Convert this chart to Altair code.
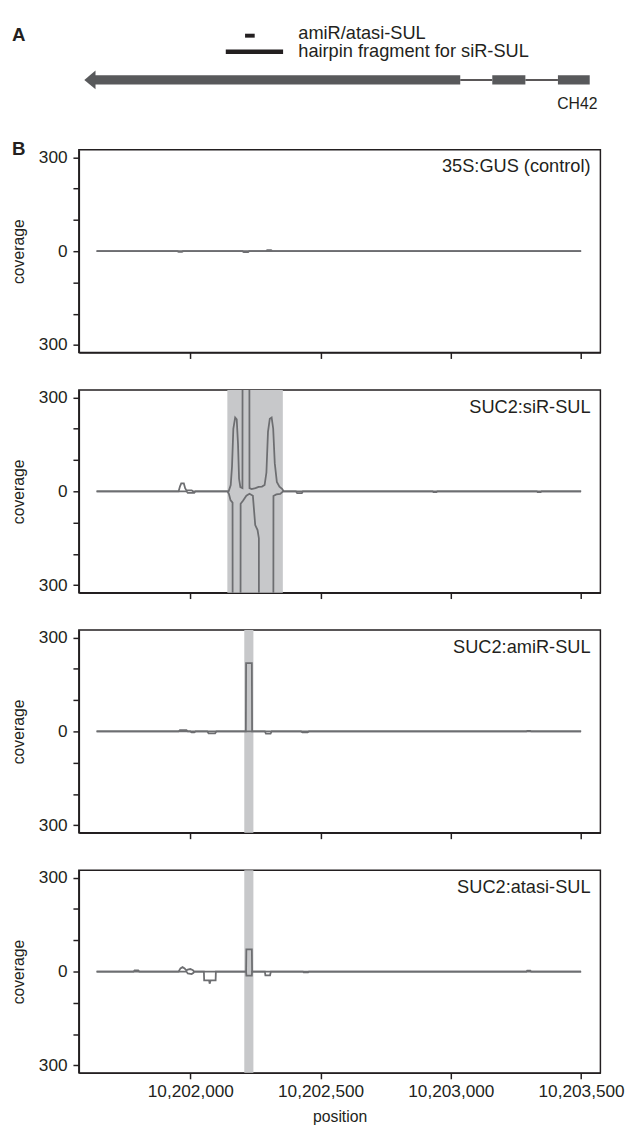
import altair as alt
import pandas as pd

# ---------------- scales / ticks ----------------
X_DOMAIN = [10201572, 10203574]
Y_DOMAIN = [-324, 324]
X_TICKS = [10202000, 10202500, 10203000, 10203500]
Y_TICKS = [-300, -200, -100, 0, 100, 200, 300]

PANEL_LABELS = ["35S:GUS (control)", "SUC2:siR-SUL", "SUC2:amiR-SUL", "SUC2:atasi-SUL"]

# ---------------- panel A: gene model ----------------
GENE_BLOCK_START = [10201630, 10203159, 10203411]
GENE_BLOCK_END = [10203036, 10203286, 10203533]
INTRON_START = [10203036, 10203286]
INTRON_END = [10203159, 10203411]
ARROW_BASE = [10201636]
AMIR_SITE = [10202210, 10202247]
HAIRPIN_SITE = [10202136, 10202356]
FEATURE_LABELS = ["amiR/atasi-SUL", "hairpin fragment for siR-SUL"]
GENE_NAME = "CH42"

# ---------------- highlighted regions (per panel) ----------------
SHADE_START = [0, 10202142, 10202207, 10202207]
SHADE_END = [0, 10202355, 10202242, 10202242]
HAS_SHADE = [False, True, True, True]

# ---------------- coverage traces ----------------
# 35S:GUS (control)
GUS_PLUS_POS = [10201640, 10202290, 10202295, 10202310, 10202315, 10203500]
GUS_PLUS_COV = [0, 0, 3, 3, 0, 0]
GUS_MINUS_POS = [10201640, 10201950, 10201955, 10201968, 10201972, 10202200,
                 10202205, 10202222, 10202226, 10203500]
GUS_MINUS_COV = [0, 0, -2, -2, 0, 0, -3, -3, 0, 0]

# SUC2:siR-SUL
SIR_PLUS_POS = [10201640, 10201955, 10201960, 10201965, 10201975, 10201980, 10201985,
                10202005, 10202010, 10202147, 10202155, 10202160, 10202165, 10202172,
                10202178, 10202183, 10202187, 10202192, 10202200, 10202201, 10202226,
                10202227, 10202235, 10202250, 10202262, 10202275, 10202285, 10202292,
                10202298, 10202305, 10202312, 10202318, 10202324, 10202332, 10202342,
                10202352, 10202358, 10203500]
SIR_PLUS_COV = [0, 0, 15, 25, 25, 10, 3,
                3, 0, 0, 20, 80, 200, 236,
                230, 150, 40, 13, 10, 1000, 1000,
                10, 7, 10, 14, 15, 20, 60,
                190, 232, 236, 200, 90, 30, 15,
                8, 0, 0]
SIR_MINUS_POS = [10201640, 10201985, 10201990, 10202015, 10202020, 10202142, 10202148,
                 10202154, 10202162, 10202163, 10202192, 10202193, 10202202, 10202215,
                 10202227, 10202240, 10202249, 10202258, 10202263, 10202264, 10202318,
                 10202319, 10202330, 10202345, 10202356, 10202405, 10202410, 10202428,
                 10202432, 10202930, 10202933, 10202945, 10202948, 10203330, 10203333,
                 10203345, 10203348, 10203500]
SIR_MINUS_COV = [0, 0, -5, -5, 0, 0, -8,
                 -28, -36, -1000, -1000, -40, -30, -14,
                 -8, -14, -108, -124, -150, -1000, -1000,
                 -15, -10, -8, 0, 0, -6, -6,
                 0, 0, -3, -3, 0, 0, -3,
                 -3, 0, 0]

# SUC2:amiR-SUL
AMI_PLUS_POS = [10201640, 10201955, 10201960, 10201985, 10201990, 10202213, 10202214,
                10202236, 10202237, 10203290, 10203293, 10203305, 10203308, 10203500]
AMI_PLUS_COV = [0, 0, 4, 4, 0, 0, 218,
                218, 0, 0, 2, 2, 0, 0]
AMI_MINUS_POS = [10201640, 10202000, 10202005, 10202015, 10202020, 10202065, 10202070,
                 10202095, 10202100, 10202286, 10202290, 10202308, 10202312, 10202425,
                 10202430, 10202450, 10202455, 10203500]
AMI_MINUS_COV = [0, 0, -3, -3, 0, 0, -6,
                 -6, 0, 0, -7, -7, 0, 0,
                 -3, -3, 0, 0]

# SUC2:atasi-SUL
ATA_PLUS_POS = [10201640, 10201782, 10201786, 10201800, 10201804, 10201955, 10201962,
                10201970, 10201978, 10201985, 10201990, 10202000, 10202010, 10202014,
                10202214, 10202215, 10202236, 10202237, 10203290, 10203293, 10203305,
                10203308, 10203500]
ATA_PLUS_COV = [0, 0, 4, 4, 0, 0, 10,
                14, 10, 3, 6, 8, 4, 0,
                0, 71, 71, 0, 0, 3, 3,
                0, 0]
ATA_MINUS_POS = [10201640, 10201985, 10201990, 10202005, 10202012, 10202015, 10202052,
                 10202053, 10202072, 10202074, 10202078, 10202097, 10202098, 10202214,
                 10202215, 10202236, 10202237, 10202286, 10202288, 10202306, 10202309,
                 10202432, 10202435, 10202452, 10202455, 10203500]
ATA_MINUS_COV = [0, 0, -6, -8, -4, 0, 0,
                 -28, -28, -39, -28, -28, 0, 0,
                 -13, -13, 0, 0, -12, -12, 0,
                 0, -3, -3, 0, 0]

# ---------------- style ----------------
FONT = "Liberation Sans"
INK = "#231f20"
LINE = "#6d6e71"
SHADE = "#c7c8ca"
GENE = "#58595b"
PANEL_W = 530
PANEL_H = 206
HEAD_H = 96


def trace_frame(plus_pos, plus_cov, minus_pos, minus_cov):
    rows = []
    for i, (p, c) in enumerate(zip(plus_pos, plus_cov)):
        rows.append({"pos": p, "cov": c, "strand": "plus", "i": i})
    for i, (p, c) in enumerate(zip(minus_pos, minus_cov)):
        rows.append({"pos": p, "cov": c, "strand": "minus", "i": i})
    return pd.DataFrame(rows)


TRACES = [
    trace_frame(GUS_PLUS_POS, GUS_PLUS_COV, GUS_MINUS_POS, GUS_MINUS_COV),
    trace_frame(SIR_PLUS_POS, SIR_PLUS_COV, SIR_MINUS_POS, SIR_MINUS_COV),
    trace_frame(AMI_PLUS_POS, AMI_PLUS_COV, AMI_MINUS_POS, AMI_MINUS_COV),
    trace_frame(ATA_PLUS_POS, ATA_PLUS_COV, ATA_MINUS_POS, ATA_MINUS_COV),
]

xscale = alt.Scale(domain=X_DOMAIN, nice=False, zero=False)
yscale = alt.Scale(domain=Y_DOMAIN, nice=False, zero=False)


def coverage_panel(k):
    bottom = k == 3
    x_axis = alt.Axis(values=X_TICKS, format=",d", labels=bottom,
                      title="position" if bottom else "", tickSize=6,
                      labelPadding=4, titlePadding=9, labelFontSize=17.5)
    y_axis = alt.Axis(values=Y_TICKS, tickSize=6, labelPadding=6, titlePadding=12,
                      labelExpr="datum.value == 0 ? '0' : (abs(datum.value) == 300 ? '300' : '')",
                      title="coverage")
    layers = []
    if HAS_SHADE[k]:
        sh = pd.DataFrame({"start": [SHADE_START[k]], "end": [SHADE_END[k]]})
        layers.append(
            alt.Chart(sh).mark_rect(color=SHADE).encode(
                x=alt.X("start:Q", scale=xscale, axis=x_axis),
                x2="end:Q",
                y=alt.value(0), y2=alt.value(PANEL_H),
            )
        )
    layers.append(
        alt.Chart(TRACES[k]).mark_line(color=LINE, strokeWidth=1.8, clip=True).encode(
            x=alt.X("pos:Q", scale=xscale, axis=x_axis),
            y=alt.Y("cov:Q", scale=yscale, axis=y_axis),
            detail="strand:N",
            order="i:Q",
        )
    )
    layers.append(
        alt.Chart(pd.DataFrame({"label": [PANEL_LABELS[k]]})).mark_text(
            align="right", baseline="middle", fontSize=18.5, font=FONT, color=INK
        ).encode(x=alt.value(PANEL_W - 10), y=alt.value(17), text="label:N")
    )
    if k == 0:
        layers.append(
            alt.Chart(pd.DataFrame({"label": ["B"]})).mark_text(
                align="left", baseline="middle", fontSize=19, fontWeight="bold",
                font=FONT, color=INK
            ).encode(x=alt.value(-68), y=alt.value(-1), text="label:N")
        )
    return alt.layer(*layers).properties(width=PANEL_W, height=PANEL_H)


# ---------------- panel A ----------------
blocks = pd.DataFrame({"start": GENE_BLOCK_START, "end": GENE_BLOCK_END})
introns = pd.DataFrame({"start": INTRON_START, "end": INTRON_END})
arrow = pd.DataFrame({"pos": ARROW_BASE})
amir = pd.DataFrame({"start": [AMIR_SITE[0]], "end": [AMIR_SITE[1]]})
hairpin = pd.DataFrame({"start": [HAIRPIN_SITE[0]], "end": [HAIRPIN_SITE[1]]})
noaxis = alt.X("start:Q", scale=xscale, axis=None)

head_layers = [
    alt.Chart(introns).mark_rule(color=INK, strokeWidth=1.5).encode(
        x=noaxis, x2="end:Q", y=alt.value(63)),
    alt.Chart(blocks).mark_rect(color=GENE).encode(
        x=noaxis, x2="end:Q", y=alt.value(58.3), y2=alt.value(67.7)),
    alt.Chart(arrow).mark_point(shape="M-1.2,0L0,-1L0,1Z", filled=True, opacity=1,
                                color=GENE, size=361, strokeWidth=0).encode(
        x=alt.X("pos:Q", scale=xscale, axis=None), y=alt.value(63)),
    alt.Chart(amir).mark_rect(color=INK).encode(
        x=noaxis, x2="end:Q", y=alt.value(16), y2=alt.value(20)),
    alt.Chart(hairpin).mark_rect(color=INK).encode(
        x=noaxis, x2="end:Q", y=alt.value(32), y2=alt.value(36.5)),
    alt.Chart(pd.DataFrame({"label": [FEATURE_LABELS[0]]})).mark_text(
        align="left", baseline="middle", fontSize=18.5, font=FONT, color=INK
    ).encode(x=alt.value(223), y=alt.value(15.3), text="label:N"),
    alt.Chart(pd.DataFrame({"label": [FEATURE_LABELS[1]]})).mark_text(
        align="left", baseline="middle", fontSize=18.5, font=FONT, color=INK
    ).encode(x=alt.value(223), y=alt.value(33.7), text="label:N"),
    alt.Chart(pd.DataFrame({"label": [GENE_NAME]})).mark_text(
        align="right", baseline="middle", fontSize=16, font=FONT, color=INK
    ).encode(x=alt.value(527), y=alt.value(87), text="label:N"),
    alt.Chart(pd.DataFrame({"label": ["A"]})).mark_text(
        align="left", baseline="middle", fontSize=19, fontWeight="bold", font=FONT, color=INK
    ).encode(x=alt.value(-68), y=alt.value(17), text="label:N"),
]
head = alt.layer(*head_layers).properties(
    width=PANEL_W, height=HEAD_H, view=alt.ViewBackground(stroke="transparent"))

chart = alt.vconcat(
    head, *[coverage_panel(k) for k in range(4)], spacing=38, bounds="flush"
).properties(
    padding={"left": 2, "top": 0, "right": 0, "bottom": 0}
).configure_axis(
    domainColor=INK, domainWidth=1.5, tickColor=INK, tickWidth=1.5,
    labelColor=INK, labelFont=FONT, labelFontSize=17.5,
    titleColor=INK, titleFont=FONT, titleFontSize=16, titleFontWeight="normal",
    grid=False,
).configure_view(
    stroke=INK, strokeWidth=1.5
)

chart.save("out.html", embed_options={"renderer": "svg", "actions": False})
